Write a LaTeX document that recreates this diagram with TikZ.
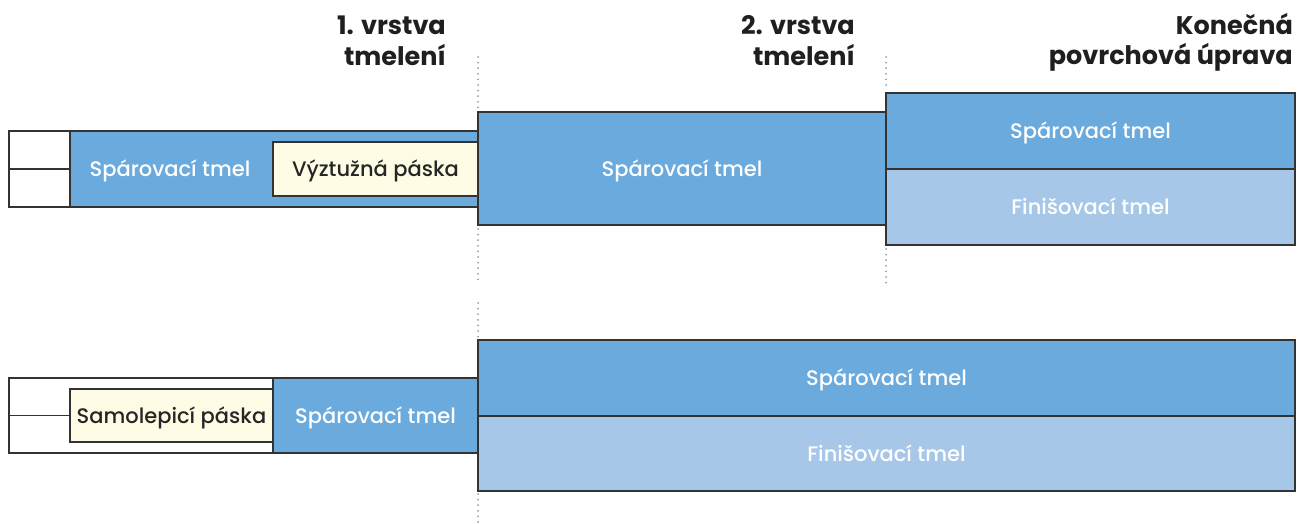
\documentclass[tikz,border=0pt]{standalone}
\usepackage{fontspec}
\setmainfont{Poppins}
\newfontfamily\headfont{Poppins Bold}
\newfontfamily\labfont{Poppins Medium}
\definecolor{tmelblue}{HTML}{6AAADD}
\definecolor{finblue}{HTML}{A7C7E9}
\definecolor{paskay}{HTML}{FFFCE6}
\definecolor{edge}{HTML}{333333}
\definecolor{dotgray}{HTML}{9A9A9A}
\tikzset{
  blk/.style={draw=edge, line width=1.3pt, inner sep=0pt, outer sep=0pt},
  wbox/.style={blk, fill=white},
  bbox/.style={blk, fill=tmelblue},
  fbox/.style={blk, fill=finblue},
  ybox/.style={blk, fill=paskay},
  labtxt/.style={anchor=base, yshift=-7.6pt, inner sep=0pt, font=\labfont\fontsize{21}{24}\selectfont},
  wlab/.style={labtxt, text=white},
  dlab/.style={labtxt, text=black!85},
  head/.style={anchor=base east, text=black!88, font=\headfont\fontsize{25.5}{30}\selectfont, inner sep=0pt},
  dotline/.style={draw=dotgray, line width=2pt, dash pattern=on 0pt off 5.6pt, line cap=round}
}
\begin{document}
\begin{tikzpicture}[x=1pt,y=-1pt]
\useasboundingbox (0,0) rectangle (1298,524);
% headers
\node[head] (h1a) at (446,35) {1. vrstva};
\node[head] (h1b) at (446,66) {tmelení};
\node[head] (h2a) at (855,35) {2. vrstva};
\node[head] (h2b) at (855,66) {tmelení};
\node[head] (h3a) at (1293,35) {Konečná};
\node[head] (h3b) at (1293,65) {povrchová úprava};
% dotted guides
\coordinate (d1a) at (478,57); \coordinate (d1b) at (478,108);
\coordinate (d1c) at (478,229); \coordinate (d1d) at (478,281);
\coordinate (d1e) at (478,303); \coordinate (d1f) at (478,337);
\coordinate (d1g) at (478,494); \coordinate (d1h) at (478,523);
\coordinate (d2a) at (886,57); \coordinate (d2b) at (886,89);
\coordinate (d2c) at (886,249); \coordinate (d2d) at (886,283);
\foreach \p/\q in {d1a/d1b,d1c/d1d,d1e/d1f,d1g/d1h,d2a/d2b,d2c/d2d}
  \draw[dotline] (\p) -- (\q);
% ---- top row ----
\node[wbox, minimum width=61pt, minimum height=38pt] (tw1) at (39.5,150) {};
\node[wbox, minimum width=61pt, minimum height=38pt] (tw2) at (39.5,188) {};
\node[bbox, minimum width=408pt, minimum height=76pt] (tb) at (274,169) {};
\node[ybox, minimum width=205pt, minimum height=54pt] (ty) at (375.5,169) {};
\node[dlab] (tyl) at (ty.center) {Výztužná páska};
\coordinate (tbc) at (170,169);
\node[wlab] (tbl) at (tbc) {Spárovací tmel};
\node[bbox, minimum width=408pt, minimum height=113pt] (tm) at (682,168.5) {};
\node[wlab] (tml) at (tm.center) {Spárovací tmel};
\node[bbox, minimum width=409pt, minimum height=76pt] (tr1) at (1090.5,131) {};
\node[fbox, minimum width=409pt, minimum height=76pt] (tr2) at (1090.5,207) {};
\node[wlab] (tr1l) at (tr1.center) {Spárovací tmel};
\node[wlab] (tr2l) at (tr2.center) {Finišovací tmel};
% ---- bottom row ----
\node[wbox, minimum width=264pt, minimum height=75pt] (bw) at (141,415.5) {};
\node[ybox, minimum width=203pt, minimum height=53pt] (by) at (171.5,415.5) {};
\draw[draw=edge, line width=1.3pt] (bw.west) -- (by.west);
\node[dlab] (byl) at (by.center) {Samolepicí páska};
\node[bbox, minimum width=205pt, minimum height=75pt] (bb) at (375.5,415.5) {};
\node[wlab] (bbl) at (bb.center) {Spárovací tmel};
\node[bbox, minimum width=817pt, minimum height=76pt] (br1) at (886.5,378) {};
\node[fbox, minimum width=817pt, minimum height=75pt] (br2) at (886.5,453.5) {};
\node[wlab] (br1l) at (br1.center) {Spárovací tmel};
\node[wlab] (br2l) at (br2.center) {Finišovací tmel};
\end{tikzpicture}
\end{document}
